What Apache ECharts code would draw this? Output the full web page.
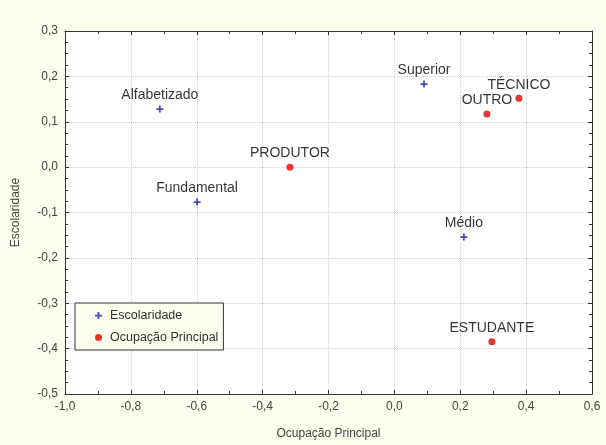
<!DOCTYPE html>
<html>
<head>
<meta charset="utf-8">
<script src="https://cdn.jsdelivr.net/npm/echarts@6/dist/echarts.min.js"></script>
<style>
  html, body { margin: 0; padding: 0; background: #fcfcef; }
  #chart { width: 606px; height: 445px; }
</style>
</head>
<body>
<div id="chart"></div>
<script>
// Escolaridade (cruzes azuis)
const escLabels = ['Alfabetizado', 'Fundamental', 'Superior', 'Médio']
const escX = [-0.712, -0.599, 0.090, 0.211]
const escY = [0.128, -0.077, 0.183, -0.154]
// Ocupação Principal (pontos vermelhos)
const ocuLabels = ['PRODUTOR', 'TÉCNICO', 'OUTRO', 'ESTUDANTE']
const ocuX = [-0.317, 0.378, 0.281, 0.296]
const ocuY = [0.0, 0.152, 0.117, -0.385]

const plus = 'path://M3,0H5V3H8V5H5V8H3V5H0V3H3Z'
const font = '"Liberation Sans", Arial, sans-serif'
const fmt = v => v.toFixed(1).replace('.', ',')

const chart = echarts.init(document.getElementById('chart'))

const tickStyle = { show: true, inside: true, length: 4, lineStyle: { color: '#333' } }
const axisLine = { show: true, onZero: false, lineStyle: { color: '#333', width: 1 } }
const labelStyle = {
  show: true, position: 'top', distance: 3,
  formatter: p => p.data[2],
  color: '#000', fontSize: 14, fontFamily: font
}

const options = {
  backgroundColor: '#fcfcef',
  textStyle: { fontFamily: font },
  animation: false,
  grid: { left: 65, right: 14, top: 31, bottom: 51, backgroundColor: '#fff', show: true, borderWidth: 0 },
  legend: {
    orient: 'vertical',
    left: 75, top: 303,
    padding: [6, 5, 6, 20],
    itemGap: 9,
    itemWidth: 13, itemHeight: 7,
    borderColor: '#333', borderWidth: 1,
    backgroundColor: '#fcfcef',
    textStyle: { fontFamily: font, fontSize: 12.5, color: '#333' },
    data: [
      { name: 'Escolaridade', icon: plus },
      { name: 'Ocupação Principal', icon: 'circle' }
    ]
  },
  xAxis: [{
    type: 'value', min: -1, max: 0.6, interval: 0.2,
    name: 'Ocupação Principal', nameLocation: 'middle', nameGap: 34,
    nameTextStyle: { fontSize: 12, color: '#444' },
    axisLine: axisLine,
    axisTick: tickStyle,
    minorTick: { show: true, splitNumber: 2, length: 3, lineStyle: { color: '#333' } },
    axisLabel: { formatter: fmt, fontSize: 12, color: '#444', margin: 7 },
    splitLine: { show: true, lineStyle: { type: 'dotted', color: '#d0d0d0' } }
  }, {
    type: 'value', min: -1, max: 0.6, interval: 0.2, position: 'top',
    axisLine: axisLine,
    axisTick: tickStyle,
    minorTick: { show: true, splitNumber: 2, length: 3, lineStyle: { color: '#333' } },
    axisLabel: { show: false },
    splitLine: { show: false }
  }],
  yAxis: [{
    type: 'value', min: -0.5, max: 0.3, interval: 0.1,
    name: 'Escolaridade', nameLocation: 'middle', nameGap: 43,
    nameTextStyle: { fontSize: 12, color: '#444' },
    axisLine: axisLine,
    axisTick: tickStyle,
    minorTick: { show: true, splitNumber: 4, length: 3, lineStyle: { color: '#333' } },
    axisLabel: { formatter: fmt, fontSize: 12, color: '#444', margin: 7 },
    splitLine: { show: true, lineStyle: { type: 'dotted', color: '#d0d0d0' } }
  }, {
    type: 'value', min: -0.5, max: 0.3, interval: 0.1, position: 'right',
    axisLine: axisLine,
    axisTick: tickStyle,
    minorTick: { show: true, splitNumber: 4, length: 3, lineStyle: { color: '#333' } },
    axisLabel: { show: false },
    splitLine: { show: false }
  }],
  series: [
    {
      name: 'Escolaridade',
      type: 'scatter',
      symbol: plus,
      symbolSize: 7,
      itemStyle: { color: '#1a1aa0' },
      label: labelStyle,
      data: escX.map((x, i) => [x, escY[i], escLabels[i]])
    },
    {
      name: 'Ocupação Principal',
      type: 'scatter',
      symbol: 'circle',
      symbolSize: 7,
      itemStyle: { color: '#e00000' },
      label: labelStyle,
      data: ocuX.map((x, i) => [x, ocuY[i], ocuLabels[i]])
    }
  ]
}

chart.setOption(options)
</script>
</body>
</html>
